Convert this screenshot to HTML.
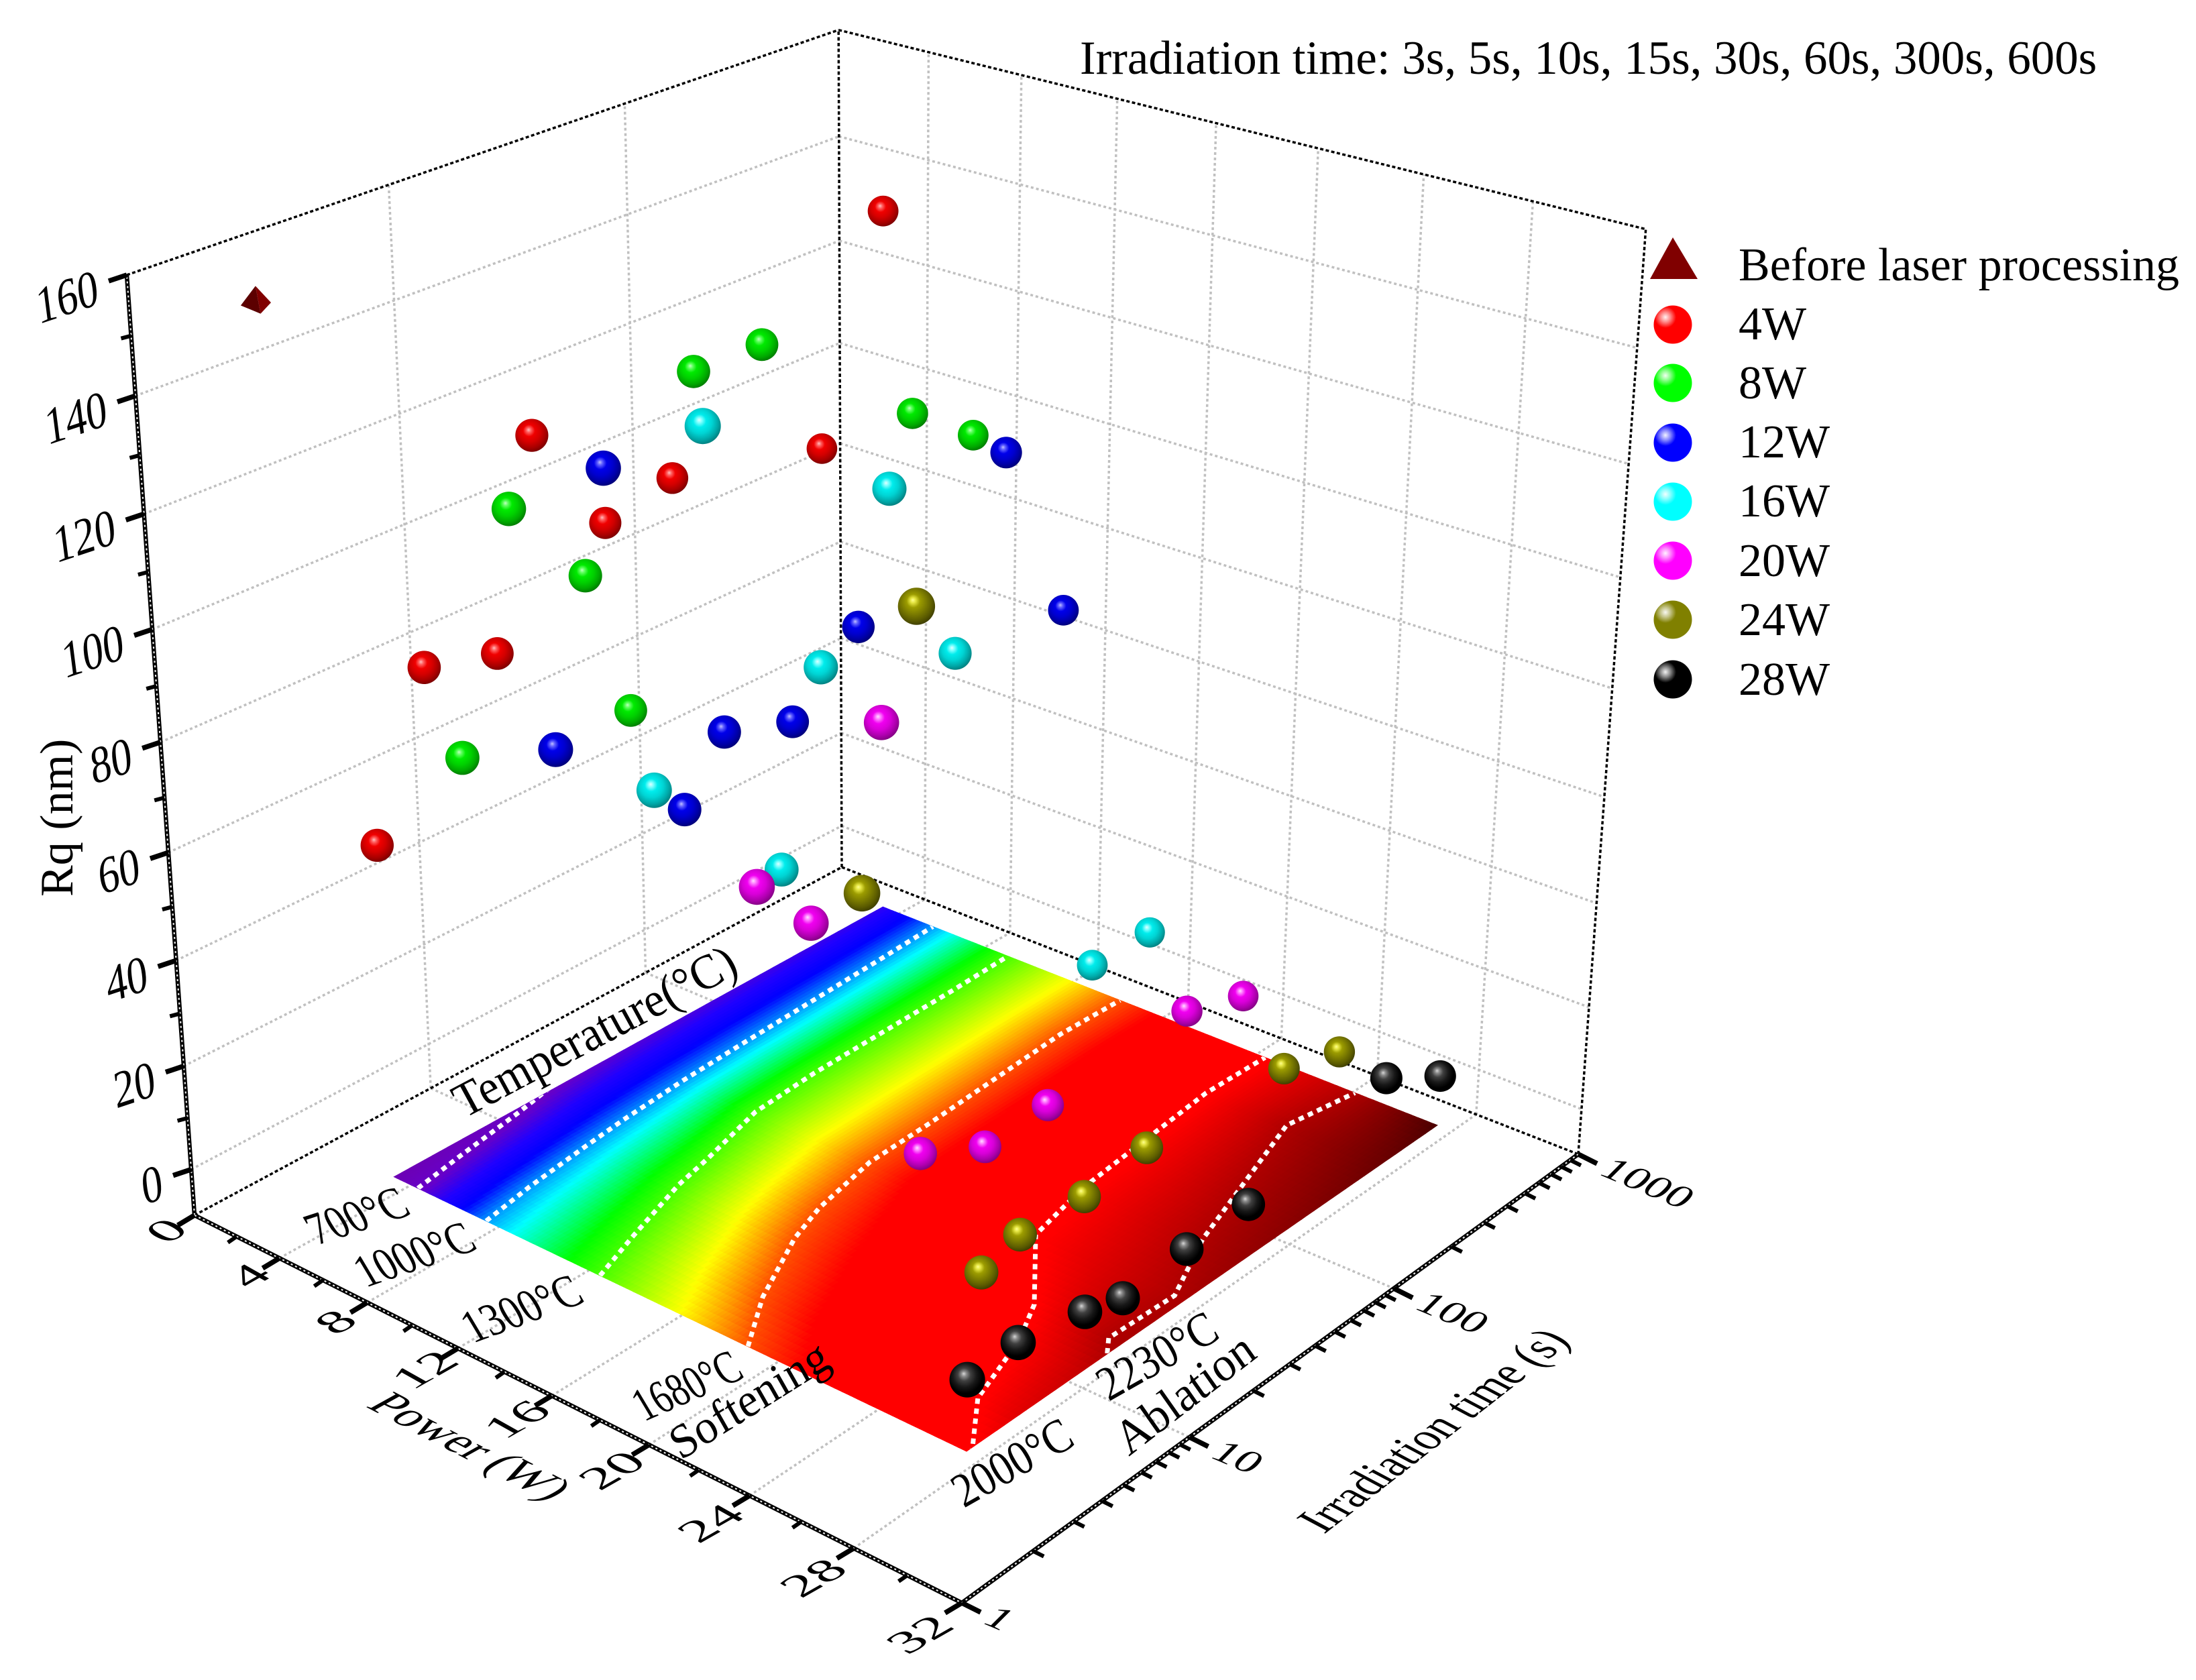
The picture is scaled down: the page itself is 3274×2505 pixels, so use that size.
<!DOCTYPE html>
<html lang="en">
<head>
<meta charset="utf-8">
<title>Rq versus power and irradiation time</title>
<style>
html,body{margin:0;padding:0;background:#fff;}
svg{display:block;}
text{font-family:"Liberation Serif","Noto Serif CJK SC",serif;fill:#000;}
</style>
</head>
<body>
<svg id="chart" xmlns="http://www.w3.org/2000/svg" width="3274" height="2505" viewBox="0 0 3274 2505">
<defs>
<radialGradient id="ball-0" cx=".45" cy=".42" r=".6" fx=".4" fy=".33"><stop offset="0" stop-color="#ffc0c0"/><stop offset=".12" stop-color="#ff6060"/><stop offset=".3" stop-color="#f00000"/><stop offset=".55" stop-color="#d40000"/><stop offset=".8" stop-color="#a80000"/><stop offset="1" stop-color="#780000"/></radialGradient>
<radialGradient id="ball-1" cx=".45" cy=".42" r=".6" fx=".4" fy=".33"><stop offset="0" stop-color="#c0ffc0"/><stop offset=".12" stop-color="#60ff60"/><stop offset=".3" stop-color="#00ea00"/><stop offset=".55" stop-color="#00d000"/><stop offset=".8" stop-color="#00a800"/><stop offset="1" stop-color="#007800"/></radialGradient>
<radialGradient id="ball-2" cx=".45" cy=".42" r=".6" fx=".4" fy=".33"><stop offset="0" stop-color="#c0c0ff"/><stop offset=".12" stop-color="#6060ff"/><stop offset=".3" stop-color="#0000ea"/><stop offset=".55" stop-color="#0000d0"/><stop offset=".8" stop-color="#0000a4"/><stop offset="1" stop-color="#000074"/></radialGradient>
<radialGradient id="ball-3" cx=".45" cy=".42" r=".6" fx=".4" fy=".33"><stop offset="0" stop-color="#e0ffff"/><stop offset=".12" stop-color="#80ffff"/><stop offset=".3" stop-color="#00ecec"/><stop offset=".55" stop-color="#00d4d4"/><stop offset=".8" stop-color="#00a8a8"/><stop offset="1" stop-color="#007c7c"/></radialGradient>
<radialGradient id="ball-4" cx=".45" cy=".42" r=".6" fx=".4" fy=".33"><stop offset="0" stop-color="#ffe0ff"/><stop offset=".12" stop-color="#ff80ff"/><stop offset=".3" stop-color="#f000f0"/><stop offset=".55" stop-color="#d800d8"/><stop offset=".8" stop-color="#ac00ac"/><stop offset="1" stop-color="#800080"/></radialGradient>
<radialGradient id="ball-5" cx=".45" cy=".42" r=".6" fx=".4" fy=".33"><stop offset="0" stop-color="#ffff90"/><stop offset=".12" stop-color="#e4e440"/><stop offset=".3" stop-color="#9c9c00"/><stop offset=".55" stop-color="#7c7c00"/><stop offset=".8" stop-color="#5c5c00"/><stop offset="1" stop-color="#3c3c00"/></radialGradient>
<radialGradient id="ball-6" cx=".45" cy=".42" r=".6" fx=".4" fy=".33"><stop offset="0" stop-color="#d8d8d8"/><stop offset=".12" stop-color="#8c8c8c"/><stop offset=".3" stop-color="#404040"/><stop offset=".55" stop-color="#181818"/><stop offset=".8" stop-color="#000"/><stop offset="1" stop-color="#000"/></radialGradient>
<radialGradient id="legend-glint"><stop offset="0" stop-color="#fff" stop-opacity=".95"/><stop offset=".45" stop-color="#fff" stop-opacity=".55"/><stop offset="1" stop-color="#fff" stop-opacity="0"/></radialGradient>
<clipPath id="surface-clip"><polygon id="surface-clip-shape" points="0,0"/></clipPath>
</defs>

<g id="grid-layer"></g>
<g id="box-layer"></g>
<g id="surface-layer"></g>
<g id="contour-layer" clip-path="url(#surface-clip)"></g>
<g id="axis-layer"></g>
<g id="tick-label-layer" font-size="70"></g>

<g font-size="70">
<text transform="matrix(.87,-.46,.5,.92,692,1668)">Temperature(°C)</text>
<text transform="matrix(.8,-.26,.53,.89,472,1857)">700°C</text>
<text transform="matrix(.79,-.27,.53,.89,545,1920)">1000°C</text>
<text transform="matrix(.79,-.29,.53,.89,705,2003)">1300°C</text>
<text transform="matrix(.71,-.31,.53,.89,960,2120)">1680°C</text>
<text transform="matrix(.83,-.52,.5,.88,1015,2178)">Softening</text>
<text transform="matrix(.785,-.445,.53,.89,1437,2249)">2000°C</text>
<text transform="matrix(.785,-.445,.53,.89,1653,2090)">2230°C</text>
<text transform="matrix(.79,-.61,.59,.84,1683,2172)">Ablation</text>
</g>

<g font-size="70">
<text transform="matrix(0,-1,1,0,108,1337)">Rq (nm)</text>
<text transform="matrix(.885,.46,-.9,.5,544,2097)">Power (W)</text>
<text transform="matrix(.697,-.544,.94,.5,1974,2288)">Irradiation time (s)</text>
</g>

<text x="1610" y="110" font-size="70.9">Irradiation time: 3s, 5s, 10s, 15s, 30s, 60s, 300s, 600s</text>

<g id="marks-layer"></g>

<g font-size="70">
<polygon points="2494,354 2531,416 2460,416" fill="#800000"/>
<text x="2592" y="418">Before laser processing</text>
<g><circle cx="2494" cy="484" r="28.5" fill="#ff0000"/><circle cx="2483" cy="473" r="16" fill="url(#legend-glint)"/><text x="2592" y="506">4W</text></g>
<g><circle cx="2494" cy="571" r="28.5" fill="#00ff00"/><circle cx="2483" cy="560" r="16" fill="url(#legend-glint)"/><text x="2592" y="594">8W</text></g>
<g><circle cx="2494" cy="660" r="28.5" fill="#0000ff"/><circle cx="2483" cy="649" r="16" fill="url(#legend-glint)"/><text x="2592" y="682">12W</text></g>
<g><circle cx="2494" cy="748" r="28.5" fill="#00ffff"/><circle cx="2483" cy="737" r="16" fill="url(#legend-glint)"/><text x="2592" y="770">16W</text></g>
<g><circle cx="2494" cy="836" r="28.5" fill="#ff00ff"/><circle cx="2483" cy="825" r="16" fill="url(#legend-glint)"/><text x="2592" y="859">20W</text></g>
<g><circle cx="2494" cy="924" r="28.5" fill="#808000"/><circle cx="2483" cy="913" r="16" fill="url(#legend-glint)"/><text x="2592" y="947">24W</text></g>
<g><circle cx="2494" cy="1013" r="28.5" fill="#000000"/><circle cx="2483" cy="1002" r="16" fill="url(#legend-glint)"/><text x="2592" y="1036">28W</text></g>
</g>
</svg>

<script>
// ---- chart data ----
const times = [3, 5, 10, 15, 30, 60, 300, 600];
const powerLevels = [4, 8, 12, 16, 20, 24, 28];
const rq4W  = [57.8, 85.7, 82.3, 118.5, 97.3, 100.2, 93.5, 133.7];
const rq8W  = [80.4, 119.6, 102.4, 74.6, 130, 129.8, 105.6, 96.3];
const rq12W = [88.4, 132.1, 66.7, 77.1, 72.8, 84.3, 103.7, 68.2];
const rq16W = [88, 144.5, 62.7, 95, 120.4, 85.6, 10.9, 10.6];
const rq20W = [78.3, 67, 95.3, 13.5, 7.1, 7.6, 9.1, 5];
const rq24W = [84.3, 126.8, 4, 6.4, 5.7, 7.3, 5.3, 1.3];
const rq28W = [7.5, 8, 5.3, 3, 4.1, 4.6, 11.2, 4.2];
const beforePower = 0;
const beforeTime = 2.9;
const beforeRq = 148.4;

// Power (W) reached by each isotherm at each irradiation time in `times`
const isothermTemps = [700, 1000, 1300, 1680, 2000, 2230, 2450];
const iso700  = [5.1, 4.7, 4.2, 3.85, 3.5, 3.3, 3.0, 2.9];
const iso1000 = [8.2, 7.8, 7.4, 7.2, 6.95, 6.8, 6.5, 6.35];
const iso1300 = [13.2, 12.4, 11.4, 11.0, 10.2, 10.0, 9.9, 9.8];
const iso1680 = [19.4, 17.9, 16.4, 15.8, 15.2, 15.1, 14.7, 14.8];
const iso2000 = [28.2, 26.5, 25.5, 24.6, 22.1, 21.5, 20.9, 21.0];
const iso2230 = [31, 30, 28.8, 27.5, 27.6, 26.3, 24.2, 24.7];
const iso2450 = [40, 38, 36, 35, 34, 33, 29.8, 28];
const drawnIsotherms = 6;

const rqTicks = [0, 20, 40, 60, 80, 100, 120, 140, 160];
const rqMinorTicks = [10, 30, 50, 70, 90, 110, 130, 150];
const powerTicks = [0, 4, 8, 12, 16, 20, 24, 28, 32];
const powerMinorTicks = [2, 6, 10, 14, 18, 22, 26, 30];
const timeTicks = [1, 10, 100, 1000];
const timeMinorMultipliers = [2, 3, 4, 5, 6, 7, 8, 9];
const seriesNames = ['4w', '8w', '12w', '16w', '20w', '24w', '28w'];

// colour scale: temperature stops and matching RGB
const colorTemps = [600, 720, 820, 900, 1070, 1220, 1510, 1760, 2020, 2230, 2450];
const colorReds   = [108, 104, 32, 0, 0, 0, 255, 255, 255, 176, 74];
const colorGreens = [0, 0, 0, 0, 255, 255, 255, 0, 0, 0, 0];
const colorBlues  = [180, 200, 255, 255, 255, 0, 0, 0, 0, 0, 0];

// ---- axis functions (perspective projection) ----
const RQ_MIN = -9, RQ_MAX = 160, POWER_MAX = 32, SURFACE_RQ = -5.6;
function uOf(p) { return p / POWER_MAX; }
function vOf(t) { return Math.log10(t) / 3; }
function wOf(z) { return (z - RQ_MIN) / (RQ_MAX - RQ_MIN); }
function project(p, t, z) {
  const u = uOf(p), v = vOf(t), w = wOf(z);
  const d = 1 - 0.12857 * u + 0.1495 * v - 0.09 * w;
  return {
    x: (290 + 959.6 * u + 1152.6 * v - 118 * w) / d,
    y: (1812 + 270.7 * u - 325.7 * v - 1438.9 * w) / d,
    d: d
  };
}

const NS = 'http://www.w3.org/2000/svg';
function mk(parent, tag, attrs) {
  const el = document.createElementNS(NS, tag);
  for (const k in attrs) el.setAttribute(k, attrs[k]);
  parent.appendChild(el);
  return el;
}
function lineBetween(parent, a, b, stroke, width, dash) {
  const attrs = { x1: a.x.toFixed(1), y1: a.y.toFixed(1), x2: b.x.toFixed(1), y2: b.y.toFixed(1), stroke: stroke, 'stroke-width': width };
  if (dash) attrs['stroke-dasharray'] = dash;
  return mk(parent, 'line', attrs);
}
const gridLayer = document.getElementById('grid-layer');
const boxLayer = document.getElementById('box-layer');
const surfaceLayer = document.getElementById('surface-layer');
const contourLayer = document.getElementById('contour-layer');
const axisLayer = document.getElementById('axis-layer');
const labelLayer = document.getElementById('tick-label-layer');
const marksLayer = document.getElementById('marks-layer');

// ---- grid lines ----
const GRID = '#c0c0c0', GRID_DASH = '4 4', GRID_W = 3.5;
rqTicks.slice(0, -1).forEach(function (z) {
  const a = lineBetween(gridLayer, project(0, 1, z), project(0, 1000, z), GRID, GRID_W, GRID_DASH);
  
  
  const b = lineBetween(gridLayer, project(0, 1000, z), project(32, 1000, z), GRID, GRID_W, GRID_DASH);
  
  
});
[10, 100].forEach(function (t) {
  const a = lineBetween(gridLayer, project(0, t, RQ_MIN), project(0, t, RQ_MAX), GRID, GRID_W, GRID_DASH);
  
  
  const b = lineBetween(gridLayer, project(0, t, RQ_MIN), project(32, t, RQ_MIN), GRID, GRID_W, GRID_DASH);
  
  
});
powerLevels.forEach(function (p) {
  const a = lineBetween(gridLayer, project(p, 1000, RQ_MIN), project(p, 1000, RQ_MAX), GRID, GRID_W, GRID_DASH);
  
  
  const b = lineBetween(gridLayer, project(p, 1, RQ_MIN), project(p, 1000, RQ_MIN), GRID, GRID_W, GRID_DASH);
  
  
});

// ---- dotted box edges ----
const BOX_DASH = '5 3.5';
[
  [[0, 1, RQ_MAX], [0, 1000, RQ_MAX]],
  [[0, 1000, RQ_MAX], [32, 1000, RQ_MAX]],
  [[0, 1000, RQ_MIN], [0, 1000, RQ_MAX]],
  [[32, 1000, RQ_MIN], [32, 1000, RQ_MAX]],
  [[0, 1, RQ_MIN], [0, 1000, RQ_MIN]],
  [[0, 1000, RQ_MIN], [32, 1000, RQ_MIN]]
].forEach(function (edge) {
  const l = lineBetween(boxLayer, project.apply(null, edge[0]), project.apply(null, edge[1]), '#000', 3.5, BOX_DASH);
  
  
});

// ---- temperature surface ----
const isoPowers = [iso700, iso1000, iso1300, iso1680, iso2000, iso2230, iso2450];
const timeVs = times.map(vOf);
function isoPowerAt(series, v) {
  if (v <= timeVs[0]) return series[0];
  for (let i = 1; i < timeVs.length; i++) {
    if (v <= timeVs[i]) {
      const f = (v - timeVs[i - 1]) / (timeVs[i] - timeVs[i - 1]);
      return series[i - 1] + f * (series[i] - series[i - 1]);
    }
  }
  return series[series.length - 1];
}
function temperatureAt(p, v) {
  const ps = isoPowers.map(function (s) { return isoPowerAt(s, v); });
  if (p <= ps[0]) return isothermTemps[0] - (ps[0] - p) * 97;
  for (let k = 1; k < ps.length; k++) {
    if (p <= ps[k]) {
      return isothermTemps[k - 1] + (p - ps[k - 1]) / (ps[k] - ps[k - 1]) * (isothermTemps[k] - isothermTemps[k - 1]);
    }
  }
  return isothermTemps[ps.length - 1];
}
function colorOf(T) {
  const n = colorTemps.length;
  if (T <= colorTemps[0]) return 'rgb(' + colorReds[0] + ',' + colorGreens[0] + ',' + colorBlues[0] + ')';
  if (T >= colorTemps[n - 1]) return 'rgb(' + colorReds[n - 1] + ',' + colorGreens[n - 1] + ',' + colorBlues[n - 1] + ')';
  for (let i = 1; i < n; i++) {
    if (T <= colorTemps[i]) {
      const f = (T - colorTemps[i - 1]) / (colorTemps[i] - colorTemps[i - 1]);
      const r = Math.round(colorReds[i - 1] + f * (colorReds[i] - colorReds[i - 1]));
      const g = Math.round(colorGreens[i - 1] + f * (colorGreens[i] - colorGreens[i - 1]));
      const b = Math.round(colorBlues[i - 1] + f * (colorBlues[i] - colorBlues[i - 1]));
      return 'rgb(' + r + ',' + g + ',' + b + ')';
    }
  }
}
const surfacePMin = powerLevels[0], surfacePMax = powerLevels[powerLevels.length - 1];
const surfaceTMin = times[0], surfaceTMax = times[times.length - 1];
const CELLS_T = 70, CELLS_P = 160;
const vMin = vOf(surfaceTMin), vMax = vOf(surfaceTMax);
function timeFromV(v) { return Math.pow(10, v * 3); }
for (let i = 0; i < CELLS_T; i++) {
  const t0 = timeFromV(vMin + (vMax - vMin) * i / CELLS_T);
  const t1 = timeFromV(vMin + (vMax - vMin) * (i + 1) / CELLS_T);
  const vc = vMin + (vMax - vMin) * (i + 0.5) / CELLS_T;
  for (let j = 0; j < CELLS_P; j++) {
    const p0 = surfacePMin + (surfacePMax - surfacePMin) * j / CELLS_P;
    const p1 = surfacePMin + (surfacePMax - surfacePMin) * (j + 1) / CELLS_P;
    const a = project(p0, t0, SURFACE_RQ), b = project(p1, t0, SURFACE_RQ);
    const c = project(p1, t1, SURFACE_RQ), d = project(p0, t1, SURFACE_RQ);
    const col = colorOf(temperatureAt((p0 + p1) / 2, vc));
    const cell = mk(surfaceLayer, 'polygon', {
      points: [a, b, c, d].map(function (q) { return q.x.toFixed(1) + ',' + q.y.toFixed(1); }).join(' '),
      fill: col, stroke: col, 'stroke-width': 1
    });
    
    
  }
}
document.getElementById('surface-clip-shape').setAttribute('points', [
  project(surfacePMin, surfaceTMin, SURFACE_RQ), project(surfacePMax, surfaceTMin, SURFACE_RQ),
  project(surfacePMax, surfaceTMax, SURFACE_RQ), project(surfacePMin, surfaceTMax, SURFACE_RQ)
].map(function (q) { return q.x.toFixed(1) + ',' + q.y.toFixed(1); }).join(' '));

// ---- isotherm contours ----
isoPowers.slice(0, drawnIsotherms).forEach(function (series, k) {
  const d = series.map(function (p, i) {
    const q = project(p, times[i], SURFACE_RQ);
    return (i ? 'L' : 'M') + q.x.toFixed(1) + ' ' + q.y.toFixed(1);
  }).join(' ');
  const path = mk(contourLayer, 'path', { d: d, fill: 'none', stroke: '#fff', 'stroke-width': 7, 'stroke-dasharray': '8 7' });
  
  
});

// ---- solid axes with ticks ----
function drawAxis(a, b, name) {
  const dark = lineBetween(axisLayer, a, b, '#000', 6.5);
  
  
  const dots = lineBetween(axisLayer, a, b, '#e8e8e8', 2.2, '3 4');
  
  
}
function drawTick(q, dx, dy, width, name) {
  const t = lineBetween(axisLayer, q, { x: q.x + dx, y: q.y + dy }, '#000', width);
  
  
}
drawAxis(project(0, 1, RQ_MIN), project(0, 1, RQ_MAX), 'rq-axis');
drawAxis(project(0, 1, RQ_MIN), project(32, 1, RQ_MIN), 'power-axis');
drawAxis(project(32, 1, RQ_MIN), project(32, 1000, RQ_MIN), 'time-axis');

rqTicks.forEach(function (z) {
  const q = project(0, 1, z);
  drawTick(q, -27, 9, 7.5, 'rq-major-tick');
  const label = mk(labelLayer, 'text', {
    transform: 'matrix(.87,-.29,.14,1.1,' + (q.x - 40).toFixed(1) + ',' + (q.y + 43).toFixed(1) + ')',
    'text-anchor': 'end'
  });
  label.textContent = String(z);
  
  
});
rqMinorTicks.forEach(function (z) {
  drawTick(project(0, 1, z), -15, 4, 6, 'rq-minor-tick');
});
powerTicks.forEach(function (p) {
  const q = project(p, 1, RQ_MIN);
  drawTick(q, -25, 15, 7.5, 'power-major-tick');
  const ox = q.x - 46 - 0.65 * p + 18.4 + 4;
  const oy = q.y + 25 + 0.75 * p + 10.4 - 2;
  const label = mk(labelLayer, 'text', {
    transform: 'matrix(1.05,-.6,.8,.45,' + ox.toFixed(1) + ',' + oy.toFixed(1) + ')',
    'text-anchor': 'middle'
  });
  label.textContent = String(p);
  
  
});
powerMinorTicks.forEach(function (p) {
  drawTick(project(p, 1, RQ_MIN), -13, 9, 6, 'power-minor-tick');
});
timeTicks.forEach(function (t, i) {
  const q = project(32, t, RQ_MIN);
  drawTick(q, 28, 14, 7.5, 'time-major-tick');
  const label = mk(labelLayer, 'text', {
    transform: 'matrix(.9,.38,-.55,.55,' + (q.x + 28).toFixed(1) + ',' + (q.y + 29).toFixed(1) + ')'
  });
  label.textContent = String(t);
  
  
  if (i < timeTicks.length - 1) {
    timeMinorMultipliers.forEach(function (m) {
      drawTick(project(32, t * m, RQ_MIN), 16, 8, 6, 'time-minor-tick');
    });
  }
});

// ---- data markers ----
const SPHERE_SCALE = 24;
const seriesRq = [rq4W, rq8W, rq12W, rq16W, rq20W, rq24W, rq28W];
seriesRq.forEach(function (values, s) {
  const group = mk(marksLayer, 'g', {});
  
  
  values.forEach(function (z, i) {
    const q = project(powerLevels[s], times[i], z);
    const ball = mk(group, 'circle', { cx: q.x.toFixed(1), cy: q.y.toFixed(1), r: (SPHERE_SCALE / q.d).toFixed(1), fill: 'url(#ball-' + s + ')' });
    
    
  });
});

// "before laser processing" pyramid marker
const bq = project(beforePower, beforeTime, beforeRq);
const br = 25.5 / bq.d;
function pyr(dx, dy) { return (bq.x + dx * br).toFixed(1) + ',' + (bq.y + dy * br).toFixed(1); }
const pyrGroup = mk(marksLayer, 'g', {});


const faceLeft = mk(pyrGroup, 'polygon', { points: [pyr(0, -.83), pyr(-.81, .24), pyr(.28, .69)].join(' '), fill: '#5c0000' });


const faceRight = mk(pyrGroup, 'polygon', { points: [pyr(0, -.83), pyr(.85, .08), pyr(.28, .69)].join(' '), fill: '#800000' });


</script>
</body>
</html>
